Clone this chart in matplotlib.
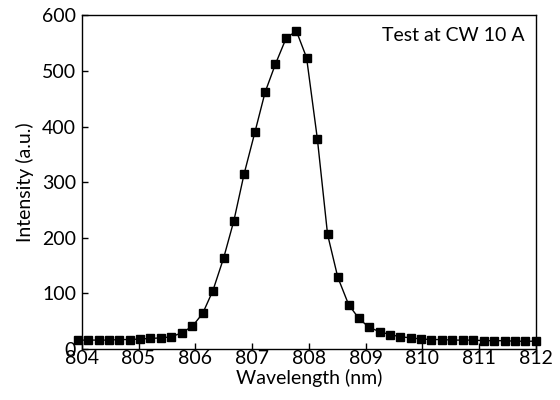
import matplotlib
matplotlib.use("Agg")
import matplotlib.pyplot as plt

# Wavelength (nm) and intensity (a.u.)
wavelength = [803.93, 804.11, 804.30, 804.48, 804.66, 804.85, 805.03, 805.21,
              805.40, 805.58, 805.76, 805.95, 806.13, 806.31, 806.50, 806.68,
              806.86, 807.05, 807.23, 807.41, 807.60, 807.78, 807.96, 808.15,
              808.33, 808.51, 808.70, 808.88, 809.06, 809.25, 809.43, 809.61,
              809.80, 809.98, 810.16, 810.35, 810.53, 810.71, 810.90, 811.08,
              811.26, 811.45, 811.63, 811.81, 812.00]
intensity = [16, 16, 16, 16, 17, 17, 18, 19, 20, 22, 29, 41, 64, 105, 164, 231,
             315, 390, 462, 512, 559, 572, 524, 378, 206, 129, 80, 55, 39, 31,
             26, 22, 20, 18, 17, 17, 16, 16, 16, 15, 15, 15, 14, 14, 14]

xticks = [804, 805, 806, 807, 808, 809, 810, 811, 812]
yticks = [0, 100, 200, 300, 400, 500, 600]

plt.rcParams['font.family'] = ['Lato', 'DejaVu Sans']
plt.rcParams['font.size'] = 14

fig = plt.figure(figsize=(5.6, 4), dpi=100)
ax = fig.add_axes([0.146, 0.1275, 0.811, 0.834])

ax.plot(wavelength, intensity, color='black', linewidth=1.0,
        marker='s', markersize=5.5, markerfacecolor='black', clip_on=False)

ax.set_xlim(804, 812)
ax.set_ylim(0, 600)
ax.set_xticks(xticks)
ax.set_yticks(yticks)
ax.tick_params(direction='in', length=4, width=1, labelsize=14)
ax.tick_params(axis='x', pad=1)
ax.tick_params(axis='y', pad=4)
for s in ax.spines.values():
    s.set_linewidth(1.0)

ax.set_xlabel("Wavelength (nm)", fontsize=14, labelpad=1)
ax.set_ylabel("Intensity (a.u.)", fontsize=14, labelpad=6)
ax.text(0.975, 0.965, "Test at CW 10 A", transform=ax.transAxes,
        ha='right', va='top', fontsize=14)

fig.savefig("out.png", dpi=100)
